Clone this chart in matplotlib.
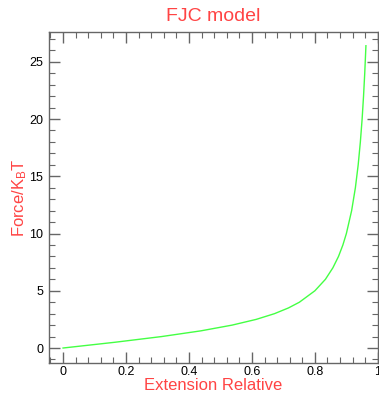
import matplotlib
matplotlib.use('Agg')
import matplotlib.pyplot as plt
from matplotlib.ticker import MultipleLocator

# FJC curve
extension = [0, 0.164, 0.313, 0.438, 0.537, 0.6135, 0.6716, 0.716, 0.7507,
             0.8, 0.8334, 0.857, 0.875, 0.8889, 0.9, 0.9167, 0.9286, 0.9375,
             0.9444, 0.95, 0.9545, 0.9583, 0.9621]
force = [0, 0.5, 1.0, 1.5, 2.0, 2.5, 3.0, 3.5, 4.0,
         5.0, 6.0, 7.0, 8.0, 9.0, 10.0, 12.0, 14.0, 16.0,
         18.0, 20.0, 22.0, 24.0, 26.4]

red = '#ff4444'
green = '#44ff44'
grey = '#666666'

plt.rcParams['font.family'] = ['Liberation Sans', 'DejaVu Sans']
plt.rcParams['mathtext.default'] = 'regular'

fig = plt.figure(figsize=(3.79, 3.93), dpi=100)
ax = fig.add_axes([0.129, 0.0763, 0.868, 0.8423])

ax.plot(extension, force, color=green, linewidth=1.0)

ax.set_xlim(-0.045, 1.0)
ax.set_ylim(-1.31, 27.6)
ax.xaxis.set_minor_locator(MultipleLocator(0.04))
ax.yaxis.set_major_locator(MultipleLocator(5))
ax.yaxis.set_minor_locator(MultipleLocator(1))
ax.set_xticks([0, 0.2, 0.4, 0.6, 0.8, 1.0])
ax.set_xticklabels(['0', '0.2', '0.4', '0.6', '0.8', '1'])

ax.tick_params(which='both', direction='in', top=True, right=True,
               color=grey, labelsize=9, labelcolor='black')
ax.tick_params(axis='x', pad=2)
ax.tick_params(axis='y', pad=4)
ax.tick_params(which='major', length=8, width=1.0)
ax.tick_params(which='minor', length=4, width=0.8)
for s in ax.spines.values():
    s.set_color(grey)
    s.set_linewidth(1.0)

ax.set_title('FJC model', color=red, fontsize=14, pad=8)
ax.set_xlabel('Extension Relative', color=red, fontsize=12, labelpad=0)
ax.set_ylabel('Force/K$_B$T', color=red, fontsize=12, labelpad=0.5)

fig.savefig('out.png', dpi=100)
